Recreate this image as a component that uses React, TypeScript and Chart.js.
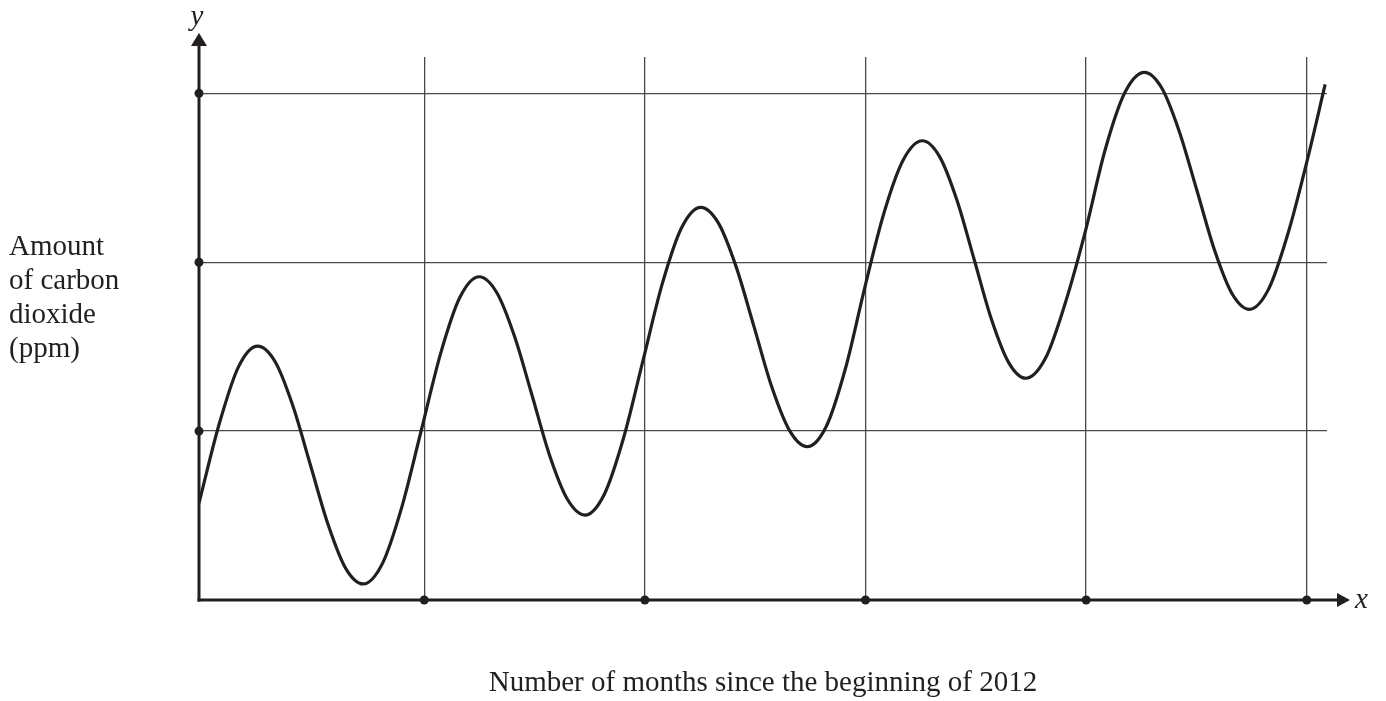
import React, { useEffect, useRef } from "react";
import { Chart, registerables } from "chart.js";

Chart.register(...registerables);

// Curve: x in months since the beginning of 2012,
// y in grid levels (one horizontal grid line = one level).
const months = [
  -0.25, 0.84, 1.89, 2.94,
  3.9, 4.85, 5.81, 6.77, 7.72, 8.68,
  9.73, 10.78, 11.84, 12.89, 13.94, 14.99,
  15.95, 16.91, 17.87, 18.82, 19.78, 20.74,
  21.79, 22.84, 23.89, 24.94, 25.99, 27.04,
  28.01, 28.97, 29.94, 30.9, 31.87, 32.83,
  33.87, 34.92, 35.96, 37.0, 38.05, 39.09,
  40.03, 40.97, 41.91, 42.84, 43.78, 44.72,
  45.8, 46.87, 47.95, 49.02, 50.1, 51.17,
  52.12, 53.07, 54.03, 54.98, 55.93, 56.88,
  57.93, 58.99, 60.04, 61.0,
];
const co2Level = [
  0.574, 1.039, 1.379, 1.503,
  1.409, 1.151, 0.799, 0.447, 0.189, 0.095,
  0.217, 0.55, 1.005, 1.459, 1.792, 1.914,
  1.819, 1.561, 1.209, 0.856, 0.598, 0.503,
  0.625, 0.959, 1.414, 1.87, 2.203, 2.325,
  2.23, 1.971, 1.617, 1.262, 1.003, 0.908,
  1.029, 1.375, 1.85, 2.29, 2.605, 2.719,
  2.625, 2.368, 2.016, 1.665, 1.407, 1.313,
  1.434, 1.76, 2.18, 2.66, 3.003, 3.124,
  3.03, 2.773, 2.423, 2.072, 1.815, 1.721,
  1.842, 2.174, 2.61, 3.053,
];

const xGridMonths = [12, 24, 36, 48, 60];
const yGridLevels = [1, 2, 3];
const xRange = [-0.25, 61.1];
const yRange = [0, 3.215];

const xTitle = "Number of months since the beginning of 2012";
const yTitleLines = ["Amount", "of carbon", "dioxide", "(ppm)"];
const xAxisLetter = "x";
const yAxisLetter = "y";

const INK = "#231f20";
const GRID = "#4a4a4a";
const SERIF = "'Liberation Serif', 'Times New Roman', serif";

const axesPlugin = {
  id: "mathAxes",
  afterDraw(chart: any) {
    const ctx = chart.ctx as CanvasRenderingContext2D;
    const area = chart.chartArea;
    const xs = chart.scales.x;
    const ys = chart.scales.y;
    const x0 = xs.getPixelForValue(xRange[0]);
    const y0 = ys.getPixelForValue(0);
    ctx.save();
    ctx.strokeStyle = INK;
    ctx.fillStyle = INK;
    ctx.lineWidth = 3;
    ctx.lineCap = "butt";

    // y axis with arrow
    const yTip = area.top - 24;
    ctx.beginPath();
    ctx.moveTo(x0, y0 + 1.5);
    ctx.lineTo(x0, yTip + 8);
    ctx.stroke();
    ctx.beginPath();
    ctx.moveTo(x0, yTip);
    ctx.lineTo(x0 - 8, yTip + 13);
    ctx.lineTo(x0 + 8, yTip + 13);
    ctx.closePath();
    ctx.fill();

    // x axis with arrow
    const xTip = area.right + 23;
    ctx.beginPath();
    ctx.moveTo(x0 - 1.5, y0);
    ctx.lineTo(xTip - 8, y0);
    ctx.stroke();
    ctx.beginPath();
    ctx.moveTo(xTip, y0);
    ctx.lineTo(xTip - 13, y0 - 7);
    ctx.lineTo(xTip - 13, y0 + 7);
    ctx.closePath();
    ctx.fill();

    // dots at the grid lines
    for (const m of xGridMonths) {
      const px = xs.getPixelForValue(m);
      ctx.beginPath();
      ctx.arc(px, y0, 4.5, 0, Math.PI * 2);
      ctx.fill();
    }
    for (const lv of yGridLevels) {
      const py = ys.getPixelForValue(lv);
      ctx.beginPath();
      ctx.arc(x0, py, 4.5, 0, Math.PI * 2);
      ctx.fill();
    }

    // axis letters
    ctx.font = `italic 29px ${SERIF}`;
    ctx.textBaseline = "alphabetic";
    ctx.textAlign = "center";
    ctx.fillText(yAxisLetter, x0 - 2, area.top - 32);
    ctx.textAlign = "left";
    ctx.fillText(xAxisLetter, area.right + 28, y0 + 8);

    // titles
    ctx.font = `29px ${SERIF}`;
    ctx.textAlign = "center";
    ctx.fillText(xTitle, (area.left + area.right) / 2, y0 + 91);
    ctx.textAlign = "left";
    yTitleLines.forEach((line, i) => {
      ctx.fillText(line, 1, 247 + i * 34);
    });
    ctx.restore();
  },
};

export default function App() {
  const canvasRef = useRef<HTMLCanvasElement | null>(null);

  useEffect(() => {
    document.documentElement.style.overflow = "hidden";
    document.body.style.overflow = "hidden";
    const canvas = canvasRef.current;
    if (!canvas) return;
    const chart = new Chart(canvas, {
      type: "scatter",
      data: {
        datasets: [
          {
            data: months.map((m, i) => ({ x: m, y: co2Level[i] })),
            showLine: true,
            borderColor: INK,
            borderWidth: 3.2,
            pointRadius: 0,
            pointHoverRadius: 0,
            cubicInterpolationMode: "monotone",
            fill: false,
          },
        ],
      },
      options: {
        animation: false,
        responsive: true,
        maintainAspectRatio: false,
        events: [],
        layout: { padding: { left: 191, right: 51, top: 49, bottom: 101 } },
        plugins: {
          legend: { display: false },
          tooltip: { enabled: false },
          title: { display: false },
        },
        scales: {
          x: {
            type: "linear",
            min: xRange[0],
            max: xRange[1],
            afterBuildTicks: (scale: any) => {
              scale.ticks = xGridMonths.map((v) => ({ value: v }));
            },
            ticks: { display: false },
            grid: { color: GRID, lineWidth: 1.3, drawTicks: false },
            border: { display: false },
          },
          y: {
            type: "linear",
            min: yRange[0],
            max: yRange[1],
            afterBuildTicks: (scale: any) => {
              scale.ticks = yGridLevels.map((v) => ({ value: v }));
            },
            ticks: { display: false },
            grid: { color: GRID, lineWidth: 1.3, drawTicks: false },
            border: { display: false },
          },
        },
      },
      plugins: [axesPlugin],
    });
    return () => chart.destroy();
  }, []);

  return (
    <div style={{ width: 1370, height: 693, position: "relative" }}>
      <canvas ref={canvasRef} />
    </div>
  );
}
